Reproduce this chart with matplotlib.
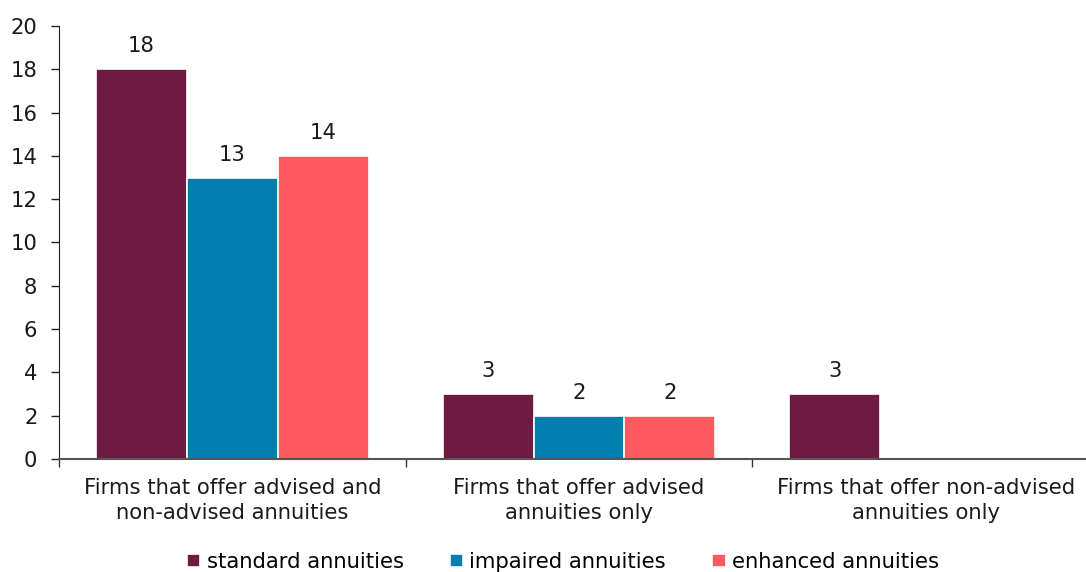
import numpy as np
import matplotlib
matplotlib.use("Agg")
import matplotlib.pyplot as plt

categories = [
    "Firms that offer advised and\nnon-advised annuities",
    "Firms that offer advised\nannuities only",
    "Firms that offer non-advised\nannuities only",
]
series_names = ["standard annuities", "impaired annuities", "enhanced annuities"]
standard = [18, 3, 3]
impaired = [13, 2, np.nan]
enhanced = [14, 2, np.nan]
colors = ["#6E1B44", "#007EAE", "#FF5A5F"]
y_ticks = [0, 2, 4, 6, 8, 10, 12, 14, 16, 18, 20]

plt.rcParams["font.family"] = ["DejaVu Sans"]
fs = 15.2

fig = plt.figure(figsize=(10.86, 5.72), dpi=100)
ax = fig.add_axes([59 / 1086, 113 / 572, 1040 / 1086, 433 / 572])

x = np.arange(len(categories))
width = 0.262
values = [standard, impaired, enhanced]
for i, (name, vals, col) in enumerate(zip(series_names, values, colors)):
    offs = (i - 1) * width
    ax.bar(x + offs, vals, width, color=col, edgecolor="white",
           linewidth=1.2, label=name)
    for xi, v in zip(x + offs, vals):
        if not np.isnan(v):
            ax.text(xi, v + 0.6, f"{v:g}", ha="center", va="bottom",
                    fontsize=fs, color="#1a1a1a")

ax.set_xlim(-0.5, 2.5)
ax.set_ylim(0, 20)
ax.set_yticks(y_ticks)
ax.tick_params(axis="y", labelsize=fs, length=6, width=1, color="#222222",
               direction="out", pad=9.5, labelcolor="#1a1a1a")

# category labels centred on each group, ticks on the group boundaries
ax.set_xticks(x)
ax.set_xticklabels(categories, fontsize=fs, color="#1a1a1a", linespacing=1.3)
ax.tick_params(axis="x", which="major", length=0, pad=13.5)
ax.set_xticks([-0.5, 0.5, 1.5, 2.5], minor=True)
ax.tick_params(axis="x", which="minor", length=6, width=1, color="#333333",
               direction="out")

for s in ["top", "right"]:
    ax.spines[s].set_visible(False)
ax.spines["left"].set_color("#222222")
ax.spines["bottom"].set_color("#555555")
ax.spines["bottom"].set_linewidth(1.5)

fig.legend(loc="center", bbox_to_anchor=(563 / 1086, 10 / 572), ncol=3,
           frameon=False, fontsize=fs, handlelength=0.62, handleheight=0.62,
           handletextpad=0.3, columnspacing=2.2, borderaxespad=0)

fig.savefig("out.png", dpi=100)
